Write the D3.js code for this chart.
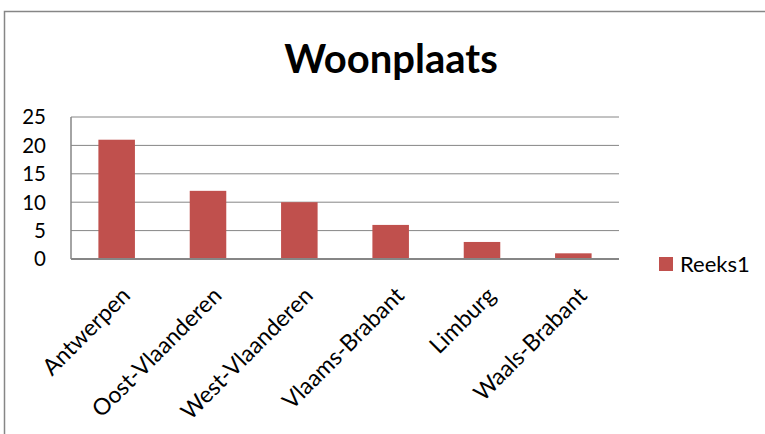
<!DOCTYPE html>
<html><head><meta charset="utf-8">
<script src="https://cdn.jsdelivr.net/npm/d3@7"></script>
<style>html,body{margin:0;padding:0;background:#fff;}svg{display:block;}</style>
</head><body>
<script>
const title = "Woonplaats";
const categories = ["Antwerpen","Oost-Vlaanderen","West-Vlaanderen","Vlaams-Brabant","Limburg","Waals-Brabant"];
const values = [21,12,10,6,3,1];
const seriesName = "Reeks1";
const yTicks = [0,5,10,15,20,25];

const W=765,H=434;
const svg=d3.select("body").append("svg").attr("width",W).attr("height",H);
const font="Lato, 'Open Sans', sans-serif";
svg.append("rect").attr("x",4.5).attr("y",11.5).attr("width",900).attr("height",600)
  .attr("fill","#fff").attr("stroke","#868686").attr("stroke-width",1.5);

const L=71,R=619,T=117,B=259;
const x=d3.scaleBand().domain(categories).range([L,R]).paddingInner(0.6).paddingOuter(0.3);
const y=d3.scaleLinear().domain([0,25]).range([B,T]);

// gridlines
svg.append("g").selectAll("line").data(yTicks.filter(d=>d>0)).join("line")
  .attr("x1",L).attr("x2",R).attr("y1",d=>y(d)).attr("y2",d=>y(d))
  .attr("stroke","#868686").attr("stroke-width",1);

// bars
svg.append("g").selectAll("rect").data(values).join("rect")
  .attr("x",(d,i)=>x(categories[i])).attr("width",x.bandwidth())
  .attr("y",d=>y(d)).attr("height",d=>B-y(d)).attr("fill","#C0504D");

// axes lines
svg.append("line").attr("x1",L).attr("x2",L).attr("y1",T).attr("y2",B).attr("stroke","#868686").attr("stroke-width",1.5);
svg.append("line").attr("x1",L).attr("x2",R).attr("y1",B).attr("y2",B).attr("stroke","#868686").attr("stroke-width",2);

// y tick labels
svg.append("g").selectAll("text").data(yTicks).join("text")
  .attr("x",46).attr("y",d=>y(d)).attr("dy","0.36em").attr("text-anchor","end")
  .attr("font-family",font).attr("font-size",20.5).attr("fill","#000").text(d=>d);

// x labels
svg.append("g").selectAll("text").data(categories).join("text")
  .attr("transform",d=>`translate(${x(d)+x.bandwidth()/2+15},${B+38}) rotate(-45)`)
  .attr("text-anchor","end")
  .attr("font-family",font).attr("font-size",23).attr("fill","#000").text(d=>d);

// title
svg.append("text").attr("x",391).attr("y",73).attr("text-anchor","middle")
  .attr("font-family",font).attr("font-weight","bold").attr("font-size",40).attr("fill","#000").text(title);

// legend
svg.append("rect").attr("x",659).attr("y",257).attr("width",14).attr("height",14).attr("fill","#C0504D");
svg.append("text").attr("x",680).attr("y",272).attr("font-family",font).attr("font-size",22).attr("fill","#000").text(seriesName);
</script>
</body></html>
